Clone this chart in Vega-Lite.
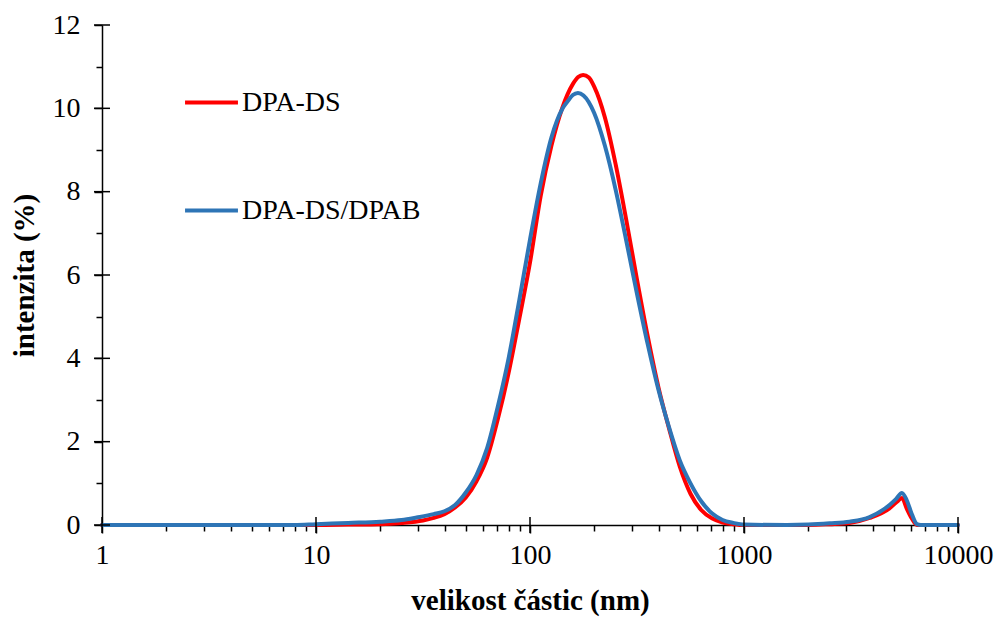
{
  "$schema": "https://vega.github.io/schema/vega-lite/v6.json",
  "width": 856,
  "height": 500,
  "autosize": "none",
  "padding": {"left": 102, "top": 25, "right": 41, "bottom": 94},
  "background": "white",
  "config": {
    "view": {"stroke": null},
    "font": "Liberation Serif",
    "axis": {"labelFont": "Liberation Serif", "titleFont": "Liberation Serif", "labelColor": "black", "titleColor": "black", "domainColor": "black", "tickColor": "black", "grid": false}
  },
  "datasets": {
    "xmajor": [{"v": 1}, {"v": 10}, {"v": 100}, {"v": 1000}, {"v": 10000}],
    "ymajor": [{"v": 0}, {"v": 2}, {"v": 4}, {"v": 6}, {"v": 8}, {"v": 10}, {"v": 12}],
    "pts": [
      {"s": "DPA-DS", "x": 1, "y": 0},
      {"s": "DPA-DS", "x": 10, "y": 0},
      {"s": "DPA-DS", "x": 14.13, "y": 0.01},
      {"s": "DPA-DS", "x": 19.95, "y": 0.02},
      {"s": "DPA-DS", "x": 25.12, "y": 0.05},
      {"s": "DPA-DS", "x": 31.62, "y": 0.11},
      {"s": "DPA-DS", "x": 35.48, "y": 0.17},
      {"s": "DPA-DS", "x": 39.81, "y": 0.26},
      {"s": "DPA-DS", "x": 44.67, "y": 0.42},
      {"s": "DPA-DS", "x": 50.12, "y": 0.66},
      {"s": "DPA-DS", "x": 56.23, "y": 1.05},
      {"s": "DPA-DS", "x": 63.1, "y": 1.62},
      {"s": "DPA-DS", "x": 70.79, "y": 2.55},
      {"s": "DPA-DS", "x": 79.43, "y": 3.65},
      {"s": "DPA-DS", "x": 89.13, "y": 4.95},
      {"s": "DPA-DS", "x": 100, "y": 6.3},
      {"s": "DPA-DS", "x": 112.2, "y": 7.9},
      {"s": "DPA-DS", "x": 125.9, "y": 9.1},
      {"s": "DPA-DS", "x": 141.3, "y": 10.0},
      {"s": "DPA-DS", "x": 149.6, "y": 10.33},
      {"s": "DPA-DS", "x": 158.5, "y": 10.58},
      {"s": "DPA-DS", "x": 167.9, "y": 10.75},
      {"s": "DPA-DS", "x": 177, "y": 10.8},
      {"s": "DPA-DS", "x": 188.4, "y": 10.74},
      {"s": "DPA-DS", "x": 199.5, "y": 10.52},
      {"s": "DPA-DS", "x": 223.9, "y": 9.78},
      {"s": "DPA-DS", "x": 251.2, "y": 8.66},
      {"s": "DPA-DS", "x": 281.8, "y": 7.32},
      {"s": "DPA-DS", "x": 316.2, "y": 5.89},
      {"s": "DPA-DS", "x": 354.8, "y": 4.53},
      {"s": "DPA-DS", "x": 398.1, "y": 3.31},
      {"s": "DPA-DS", "x": 446.7, "y": 2.31},
      {"s": "DPA-DS", "x": 501.2, "y": 1.4},
      {"s": "DPA-DS", "x": 562.3, "y": 0.75},
      {"s": "DPA-DS", "x": 631, "y": 0.36},
      {"s": "DPA-DS", "x": 707.9, "y": 0.16},
      {"s": "DPA-DS", "x": 794.3, "y": 0.06},
      {"s": "DPA-DS", "x": 891.3, "y": 0.02},
      {"s": "DPA-DS", "x": 1000, "y": 0},
      {"s": "DPA-DS", "x": 2000, "y": 0},
      {"s": "DPA-DS", "x": 2512, "y": 0.02},
      {"s": "DPA-DS", "x": 3112, "y": 0.05},
      {"s": "DPA-DS", "x": 3864, "y": 0.17},
      {"s": "DPA-DS", "x": 4786, "y": 0.4},
      {"s": "DPA-DS", "x": 5248, "y": 0.58},
      {"s": "DPA-DS", "x": 5470, "y": 0.65},
      {"s": "DPA-DS", "x": 5754, "y": 0.4},
      {"s": "DPA-DS", "x": 6095, "y": 0.15},
      {"s": "DPA-DS", "x": 6427, "y": 0},
      {"s": "DPA-DS", "x": 10000, "y": 0},
      {"s": "DPA-DS/DPAB", "x": 1, "y": 0},
      {"s": "DPA-DS/DPAB", "x": 7.94, "y": 0},
      {"s": "DPA-DS/DPAB", "x": 10, "y": 0.02},
      {"s": "DPA-DS/DPAB", "x": 14.13, "y": 0.05},
      {"s": "DPA-DS/DPAB", "x": 19.95, "y": 0.08},
      {"s": "DPA-DS/DPAB", "x": 25.12, "y": 0.12},
      {"s": "DPA-DS/DPAB", "x": 29.51, "y": 0.18},
      {"s": "DPA-DS/DPAB", "x": 35.48, "y": 0.26},
      {"s": "DPA-DS/DPAB", "x": 39.81, "y": 0.33},
      {"s": "DPA-DS/DPAB", "x": 44.67, "y": 0.48},
      {"s": "DPA-DS/DPAB", "x": 50.12, "y": 0.78},
      {"s": "DPA-DS/DPAB", "x": 56.23, "y": 1.2},
      {"s": "DPA-DS/DPAB", "x": 63.1, "y": 1.85},
      {"s": "DPA-DS/DPAB", "x": 70.79, "y": 2.85},
      {"s": "DPA-DS/DPAB", "x": 79.43, "y": 4.0},
      {"s": "DPA-DS/DPAB", "x": 89.13, "y": 5.4},
      {"s": "DPA-DS/DPAB", "x": 100, "y": 6.85},
      {"s": "DPA-DS/DPAB", "x": 112.2, "y": 8.2},
      {"s": "DPA-DS/DPAB", "x": 125.9, "y": 9.3},
      {"s": "DPA-DS/DPAB", "x": 141.3, "y": 9.98},
      {"s": "DPA-DS/DPAB", "x": 149.6, "y": 10.16},
      {"s": "DPA-DS/DPAB", "x": 158.5, "y": 10.32},
      {"s": "DPA-DS/DPAB", "x": 167.5, "y": 10.37},
      {"s": "DPA-DS/DPAB", "x": 177.8, "y": 10.31},
      {"s": "DPA-DS/DPAB", "x": 199.5, "y": 9.89},
      {"s": "DPA-DS/DPAB", "x": 223.9, "y": 9.1},
      {"s": "DPA-DS/DPAB", "x": 251.2, "y": 8.05},
      {"s": "DPA-DS/DPAB", "x": 281.8, "y": 6.82},
      {"s": "DPA-DS/DPAB", "x": 316.2, "y": 5.55},
      {"s": "DPA-DS/DPAB", "x": 354.8, "y": 4.34},
      {"s": "DPA-DS/DPAB", "x": 398.1, "y": 3.25},
      {"s": "DPA-DS/DPAB", "x": 446.7, "y": 2.34},
      {"s": "DPA-DS/DPAB", "x": 501.2, "y": 1.55},
      {"s": "DPA-DS/DPAB", "x": 562.3, "y": 1.0},
      {"s": "DPA-DS/DPAB", "x": 631, "y": 0.57},
      {"s": "DPA-DS/DPAB", "x": 707.9, "y": 0.28},
      {"s": "DPA-DS/DPAB", "x": 794.3, "y": 0.12},
      {"s": "DPA-DS/DPAB", "x": 891.3, "y": 0.05},
      {"s": "DPA-DS/DPAB", "x": 1000, "y": 0.01},
      {"s": "DPA-DS/DPAB", "x": 1585, "y": 0},
      {"s": "DPA-DS/DPAB", "x": 1995, "y": 0.01},
      {"s": "DPA-DS/DPAB", "x": 2512, "y": 0.04},
      {"s": "DPA-DS/DPAB", "x": 3112, "y": 0.08},
      {"s": "DPA-DS/DPAB", "x": 3864, "y": 0.19},
      {"s": "DPA-DS/DPAB", "x": 4786, "y": 0.48},
      {"s": "DPA-DS/DPAB", "x": 5129, "y": 0.62},
      {"s": "DPA-DS/DPAB", "x": 5470, "y": 0.77},
      {"s": "DPA-DS/DPAB", "x": 5754, "y": 0.6},
      {"s": "DPA-DS/DPAB", "x": 6095, "y": 0.25},
      {"s": "DPA-DS/DPAB", "x": 6427, "y": 0.02},
      {"s": "DPA-DS/DPAB", "x": 6700, "y": 0},
      {"s": "DPA-DS/DPAB", "x": 10000, "y": 0}
    ]
  },
  "layer": [
    {
      "data": {"name": "pts"},
      "mark": {"type": "line", "interpolate": "monotone", "strokeWidth": 4, "strokeCap": "round", "strokeJoin": "round"},
      "encoding": {
        "x": {
          "field": "x", "type": "quantitative",
          "scale": {"type": "log", "domain": [1, 10000], "nice": false},
          "axis": {
            "orient": "bottom",
            "values": [1,2,3,4,5,6,7,8,9,10,20,30,40,50,60,70,80,90,100,200,300,400,500,600,700,800,900,1000,2000,3000,4000,5000,6000,7000,8000,9000,10000],
            "labelExpr": "indexof([1,10,100,1000,10000], datum.value) >= 0 ? format(datum.value, 'd') : ''",
            "tickSize": {"condition": {"test": "indexof([1,10,100,1000,10000], datum.value) >= 0", "value": 8}, "value": 6},
            "tickWidth": 1.5,
            "domainWidth": 1.5,
            "labelFontSize": 28,
            "labelPadding": 8,
            "labelFlush": false,
            "labelOverlap": false,
            "title": "velikost částic (nm)",
            "titleFontSize": 29,
            "titleFontWeight": "bold",
            "titlePadding": 17
          }
        },
        "y": {
          "field": "y", "type": "quantitative",
          "scale": {"domain": [0, 12], "nice": false},
          "axis": {
            "orient": "left",
            "values": [0,0.5,1,1.5,2,2.5,3,3.5,4,4.5,5,5.5,6,6.5,7,7.5,8,8.5,9,9.5,10,10.5,11,11.5,12],
            "labelExpr": "datum.value % 2 == 0 ? format(datum.value, 'd') : ''",
            "tickSize": {"condition": {"test": "datum.value % 2 == 0", "value": 8}, "value": 6},
            "tickWidth": 1.5,
            "domainWidth": 1.5,
            "labelFontSize": 28,
            "labelPadding": 14,
            "labelFlush": false,
            "labelOverlap": false,
            "title": "intenzita (%)",
            "titleFontSize": 29,
            "titleFontWeight": "bold",
            "titlePadding": 13
          }
        },
        "color": {
          "field": "s", "type": "nominal",
          "scale": {"domain": ["DPA-DS", "DPA-DS/DPAB"], "range": ["#FF0000", "#2E75B6"]},
          "legend": {
            "title": null,
            "orient": "none",
            "legendX": 81,
            "legendY": 49,
            "symbolType": "stroke",
            "symbolSize": 2800,
            "symbolStrokeWidth": 4,
            "labelFontSize": 28,
            "labelFont": "Liberation Serif",
            "labelColor": "black",
            "labelOffset": 2,
            "rowPadding": 65,
            "labelLimit": 400
          }
        }
      }
    },
    {
      "data": {"name": "xmajor"},
      "mark": {"type": "tick", "orient": "vertical", "size": 16, "thickness": 1.5, "color": "black", "opacity": 1},
      "encoding": {
        "x": {"field": "v", "type": "quantitative"},
        "y": {"datum": 0, "type": "quantitative"}
      }
    },
    {
      "data": {"name": "ymajor"},
      "mark": {"type": "tick", "orient": "horizontal", "size": 16, "thickness": 1.5, "color": "black", "opacity": 1},
      "encoding": {
        "y": {"field": "v", "type": "quantitative"},
        "x": {"datum": 1, "type": "quantitative"}
      }
    }
  ]
}
